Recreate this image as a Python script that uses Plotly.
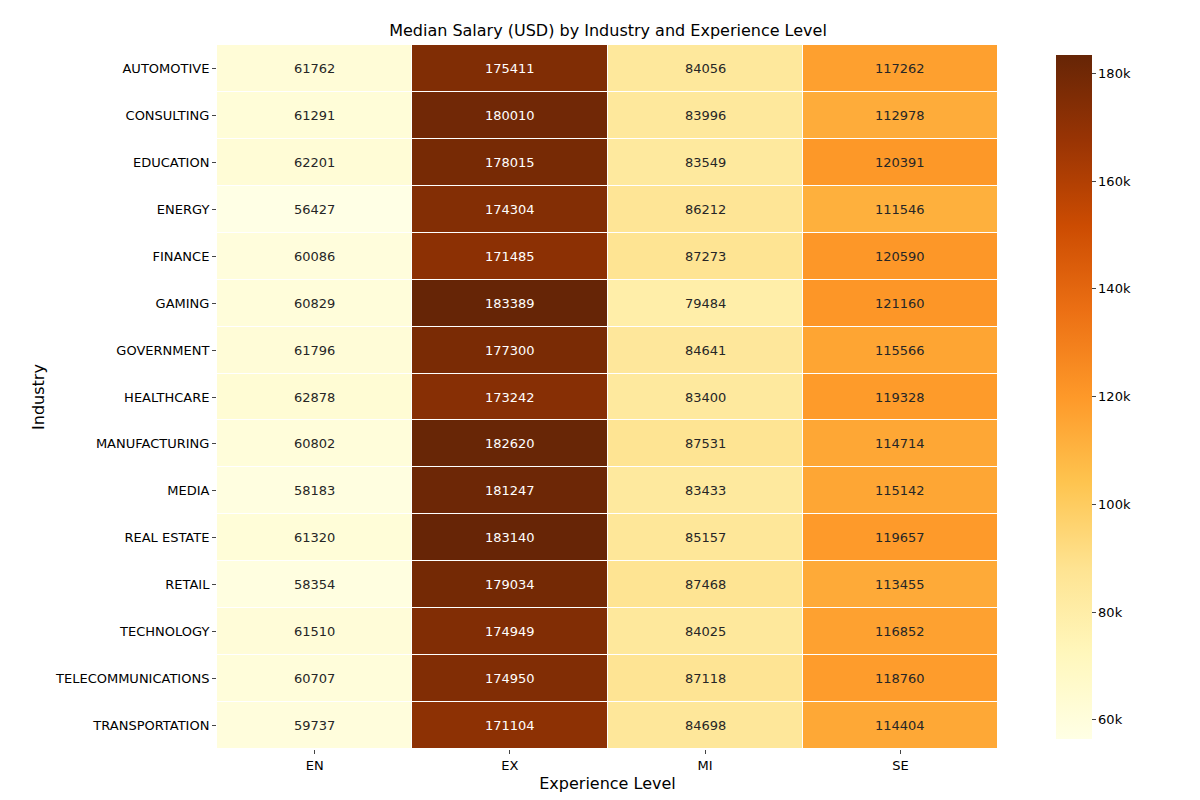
import plotly.graph_objects as go

industries = ["AUTOMOTIVE", "CONSULTING", "EDUCATION", "ENERGY", "FINANCE", "GAMING",
              "GOVERNMENT", "HEALTHCARE", "MANUFACTURING", "MEDIA", "REAL ESTATE",
              "RETAIL", "TECHNOLOGY", "TELECOMMUNICATIONS", "TRANSPORTATION"]
levels = ["EN", "EX", "MI", "SE"]

en = [61762, 61291, 62201, 56427, 60086, 60829, 61796, 62878, 60802, 58183, 61320, 58354, 61510, 60707, 59737]
ex = [175411, 180010, 178015, 174304, 171485, 183389, 177300, 173242, 182620, 181247, 183140, 179034, 174949, 174950, 171104]
mi = [84056, 83996, 83549, 86212, 87273, 79484, 84641, 83400, 87531, 83433, 85157, 87468, 84025, 87118, 84698]
se = [117262, 112978, 120391, 111546, 120590, 121160, 115566, 119328, 114714, 115142, 119657, 113455, 116852, 118760, 114404]

z = [list(r) for r in zip(en, ex, mi, se)]
zmin = min(min(r) for r in z)
zmax = max(max(r) for r in z)

ylorbr = [[0.0, "#ffffe5"], [0.125, "#fff7bc"], [0.25, "#fee391"], [0.375, "#fec44f"],
          [0.5, "#fe9929"], [0.625, "#ec7014"], [0.75, "#cc4c02"], [0.875, "#993404"],
          [1.0, "#662506"]]

fig = go.Figure(go.Heatmap(
    z=z, x=levels, y=industries, colorscale=ylorbr, zmin=zmin, zmax=zmax,
    xgap=1, ygap=1,
    colorbar=dict(x=1.0615, xanchor="left", thickness=36, len=1, lenmode="fraction",
                  y=0.5, yanchor="middle", outlinewidth=0, tickvals=list(range(60000, 180001, 20000)),
                  ticks="outside", ticklen=4, tickfont=dict(size=13)),
))

annotations = []
for i, ind in enumerate(industries):
    for j, lv in enumerate(levels):
        v = z[i][j]
        frac = (v - zmin) / (zmax - zmin)
        annotations.append(dict(x=lv, y=ind, text=str(v), showarrow=False,
                                font=dict(size=13, color="white" if frac > 0.6 else "#262626")))

fig.update_layout(
    width=1200, height=800,
    margin=dict(l=209, r=210, t=37, b=59),
    plot_bgcolor="white", paper_bgcolor="white",
    font=dict(family="DejaVu Sans", size=13, color="black"),
    title=dict(text="Median Salary (USD) by Industry and Experience Level", x=0.5, xanchor="center",
               y=1 - 22 / 800, yanchor="middle", font=dict(size=16)),
    annotations=annotations,
    xaxis=dict(title=dict(text="Experience Level", standoff=6), ticks="outside", ticklen=4, showgrid=False),
    yaxis=dict(title=dict(text="Industry", standoff=6), autorange="reversed", ticks="outside", ticklen=4, showgrid=False),
)

fig.write_html("out.html")
